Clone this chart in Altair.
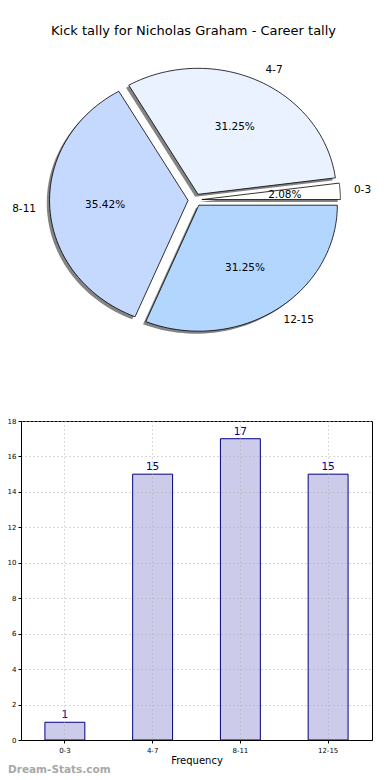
import altair as alt
import pandas as pd

# ---- data ----
labels = ["0-3", "4-7", "8-11", "12-15"]
counts = [1, 15, 17, 15]
slice_colors = ["#ffffff", "#eaf2ff", "#c5d9ff", "#b3d6ff"]
y_ticks = [0, 2, 4, 6, 8, 10, 12, 14, 16, 18]
title_text = "Kick tally for Nicholas Graham - Career tally"
y_title = "Distribution"
x_title = "Frequency"
watermark = "Dream-Stats.com"

FONT = "DejaVu Sans"
N = 60

df = pd.DataFrame({"label": labels, "count": counts, "idx": list(range(len(labels)))})

xs = alt.Scale(domain=[-1.256, 1.278], nice=False, zero=False)
ys = alt.Scale(domain=[-1.167, 1.222], nice=False, zero=False)

base = (
    alt.Chart(df)
    .transform_joinaggregate(total="sum(count)")
    .transform_window(cum="sum(count)", sort=[alt.SortField("idx")], frame=[None, 0])
    .transform_calculate(
        a0="2*PI*(datum.cum - datum.count)/datum.total",
        a1="2*PI*datum.cum/datum.total",
    )
    .transform_calculate(mid="(datum.a0 + datum.a1)/2")
    .transform_calculate(ex="0.05*cos(datum.mid)", ey="0.05*sin(datum.mid)")
)

poly = (
    base.transform_calculate(s=f"sequence(0, {N + 3})")
    .transform_flatten(["s"])
    .transform_calculate(
        ang=f"datum.a0 + (datum.a1 - datum.a0)*clamp(datum.s - 1, 0, {N})/{N}",
        r=f"(datum.s == 0 || datum.s == {N + 2}) ? 0 : 1",
    )
    .transform_calculate(
        px="datum.ex + datum.r*cos(datum.ang)",
        py="datum.ey + datum.r*sin(datum.ang)",
        sx="datum.ex + datum.r*cos(datum.ang) - 0.02",
        sy="datum.ey + datum.r*sin(datum.ang) - 0.02",
    )
)

shadow = poly.mark_line(filled=True, fill="#6e6e6e", strokeWidth=0, opacity=0.85).encode(
    x=alt.X("sx:Q", scale=xs, axis=None),
    y=alt.Y("sy:Q", scale=ys, axis=None),
    order=alt.Order("s:Q"),
    detail="label:N",
)

slices = poly.mark_line(filled=True, stroke="black", strokeWidth=0.8).encode(
    x=alt.X("px:Q", scale=xs, axis=None),
    y=alt.Y("py:Q", scale=ys, axis=None),
    order=alt.Order("s:Q"),
    detail="label:N",
    color=alt.Color("label:N", scale=alt.Scale(domain=labels, range=slice_colors), legend=None),
)

lab = base.transform_calculate(
    lx="datum.ex + 1.1*cos(datum.mid)",
    ly="datum.ey + 1.1*sin(datum.mid)",
    c="cos(datum.mid)",
)
lab_right = lab.transform_filter("datum.c >= 0").mark_text(
    align="left", baseline="middle", fontSize=10.5, font=FONT, color="black"
).encode(x=alt.X("lx:Q", scale=xs, axis=None), y=alt.Y("ly:Q", scale=ys, axis=None), text="label:N")
lab_left = lab.transform_filter("datum.c < 0").mark_text(
    align="right", baseline="middle", fontSize=10.5, font=FONT, color="black"
).encode(x=alt.X("lx:Q", scale=xs, axis=None), y=alt.Y("ly:Q", scale=ys, axis=None), text="label:N")

pct = base.transform_calculate(
    tx="datum.ex + 0.6*cos(datum.mid)",
    ty="datum.ey + 0.6*sin(datum.mid)",
    t="format(100*datum.count/datum.total, '.2f') + '%'",
).mark_text(align="center", baseline="middle", fontSize=10.5, font=FONT, color="black").encode(
    x=alt.X("tx:Q", scale=xs, axis=None), y=alt.Y("ty:Q", scale=ys, axis=None), text="t:N"
)

pie = alt.layer(shadow, slices, lab_right, lab_left, pct).properties(
    width=351, height=301, view=alt.ViewBackground(stroke=None)
)

# ---- bar chart ----
bdf = pd.DataFrame({"label": labels, "count": counts})
bx = alt.X(
    "label:N",
    sort=labels,
    scale=alt.Scale(paddingInner=0.545, paddingOuter=0.2725),
    axis=alt.Axis(
        title=x_title, labelAngle=0, grid=True, bandPosition=0.5,
        gridDash=[1, 3], gridColor="#b0b0b0", labelFontSize=7, titleFontSize=10,
        titleFontWeight="normal", titlePadding=2, labelPadding=3, tickSize=3,
        domainColor="black", tickColor="black", zindex=1, labelColor="black", titleColor="black",
    ),
)
by = alt.Y(
    "count:Q",
    scale=alt.Scale(domain=[0, 18], nice=False),
    axis=alt.Axis(
        title=y_title, values=y_ticks, grid=True, gridDash=[1, 3], gridColor="#b0b0b0",
        labelFontSize=7, titleFontSize=9, titleFontWeight="normal", titlePadding=3,
        labelPadding=2, tickSize=3, domainColor="black", tickColor="black", zindex=1,
        labelOverlap=False, labelColor="black", titleColor="black",
    ),
)
bbase = alt.Chart(bdf).encode(x=bx, y=by)
bars = bbase.mark_bar(fill="#ccccea", stroke="#000080", strokeWidth=1)
btext = bbase.mark_text(dy=-7, color="#000080", fontSize=10.5, font=FONT).encode(text="count:Q")
barchart = alt.layer(bars, btext).properties(
    width=351,
    height=319,
    view=alt.ViewBackground(stroke="black", strokeWidth=1),
    title=alt.TitleParams(
        watermark, orient="bottom", anchor="start", frame="group", dx=-13, color="#a8a8a8",
        fontSize=10.5, fontWeight="bold", font=FONT, offset=0,
    ),
)

chart = (
    alt.vconcat(pie, barchart, spacing=69)
    .properties(
        title=alt.TitleParams(title_text, fontSize=13, font=FONT, fontWeight="normal",
                              anchor="middle", offset=8, dx=10),
        padding={"left": -14, "top": 17, "right": 0, "bottom": 0},
    )
    .configure(font=FONT)
    .configure_view(stroke=None)
)

chart.save("out.html", embed_options={"renderer": "svg", "actions": False})
